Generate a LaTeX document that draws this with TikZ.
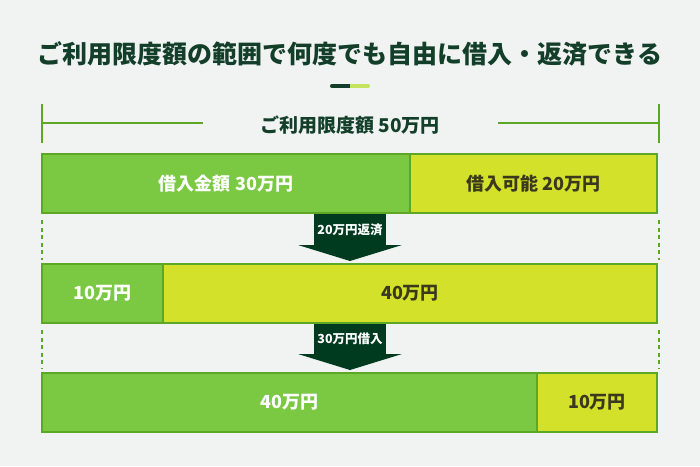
\documentclass[tikz,border=0pt]{standalone}
\usepackage{fontspec}
\setmainfont{Noto Sans CJK JP}
\usetikzlibrary{positioning}
\definecolor{bgcol}{HTML}{F1F3F2}
\definecolor{deepgreen}{HTML}{133F2A}
\definecolor{arrowgreen}{HTML}{003B20}
\definecolor{leafgreen}{HTML}{7BC943}
\definecolor{limegreen}{HTML}{D4E12A}
\definecolor{edgegreen}{HTML}{5EA626}
\definecolor{paleline}{HTML}{C4E460}
\definecolor{inktext}{HTML}{3A391C}
\tikzstyle{barbox} = [rectangle, draw=edgegreen, line width=2pt, minimum height=59pt, inner sep=0pt, font=\fontsize{18}{18}\selectfont\bfseries]
\tikzstyle{used} = [barbox, fill=leafgreen, text=white]
\tikzstyle{free} = [barbox, fill=limegreen, text=inktext]
\tikzstyle{shaft} = [rectangle, fill=arrowgreen, text=white, minimum width=72pt, minimum height=31pt, inner sep=0pt, outer sep=0pt, font=\fontsize{12.5}{12.5}\selectfont\bfseries]
\tikzstyle{guide} = [edgegreen, line width=2pt]
\tikzstyle{dashguide} = [edgegreen, line width=1.5pt, dash pattern=on 4pt off 3.5pt]
\tikzstyle{heading} = [text=deepgreen, font=\fontsize{25}{25}\selectfont\bfseries]

\begin{document}
\begin{tikzpicture}[x=1pt, y=-1pt]
\fill[bgcol] (0,0) rectangle (700,466);
\useasboundingbox (0,0) rectangle (700,466);

\node[heading] (title) at (350,54) {ご利用限度額の範囲で何度でも自由に借入・返済できる};
\draw[paleline, line width=4pt, line cap=round] (332,86) -- (368,86);
\draw[deepgreen, line width=4pt] (332,86) -- (350,86);
\fill[deepgreen] (332,86) circle (2pt);

% limit bracket
\coordinate (tickl) at (42,104);
\coordinate (tickr) at (659,104);
\draw[guide] (tickl) -- ++(0,39);
\draw[guide] (tickr) -- ++(0,39);
\node[heading, font=\fontsize{19}{19}\selectfont\bfseries] (limit) at (350,125) {ご利用限度額 50万円};
\draw[guide] (42,123) -- (203,123);
\draw[guide] (498,123) -- (659,123);

% arrows
\node[shaft, anchor=north] (repay) at (350,214) {20万円返済};
\fill[arrowgreen] ([xshift=-16pt]repay.south west) -- ([xshift=16pt]repay.south east) -- ([yshift=-16pt]repay.south) -- cycle;
\node[shaft, anchor=north] (borrow) at (350,323) {30万円借入};
\fill[arrowgreen] ([xshift=-16pt]borrow.south west) -- ([xshift=16pt]borrow.south east) -- ([yshift=-16pt]borrow.south) -- cycle;

% bars
\node[used, minimum width=368pt, anchor=north west] (box1l) at (41,153) {借入金額 30万円};
\node[free, minimum width=247pt, right=-2pt of box1l] (box1r) {借入可能 20万円};
\node[used, minimum width=121pt, anchor=north west] (box2l) at (41,263) {10万円};
\node[free, minimum width=494pt, right=-2pt of box2l] (box2r) {40万円};
\node[used, minimum width=495pt, anchor=north west] (box3l) at (41,372) {40万円};
\node[free, minimum width=120pt, right=-2pt of box3l] (box3r) {10万円};

\draw[dashguide] ([xshift=1pt,yshift=-6pt]box1l.south west) -- ([xshift=1pt,yshift=3pt]box2l.north west);
\draw[dashguide] ([xshift=1pt,yshift=-6pt]box1r.south east) -- ([xshift=1pt,yshift=3pt]box2r.north east);
\draw[dashguide] ([xshift=1pt,yshift=-6pt]box2l.south west) -- ([xshift=1pt,yshift=3pt]box3l.north west);
\draw[dashguide] ([xshift=1pt,yshift=-6pt]box2r.south east) -- ([xshift=1pt,yshift=3pt]box3r.north east);
\end{tikzpicture}
\end{document}
